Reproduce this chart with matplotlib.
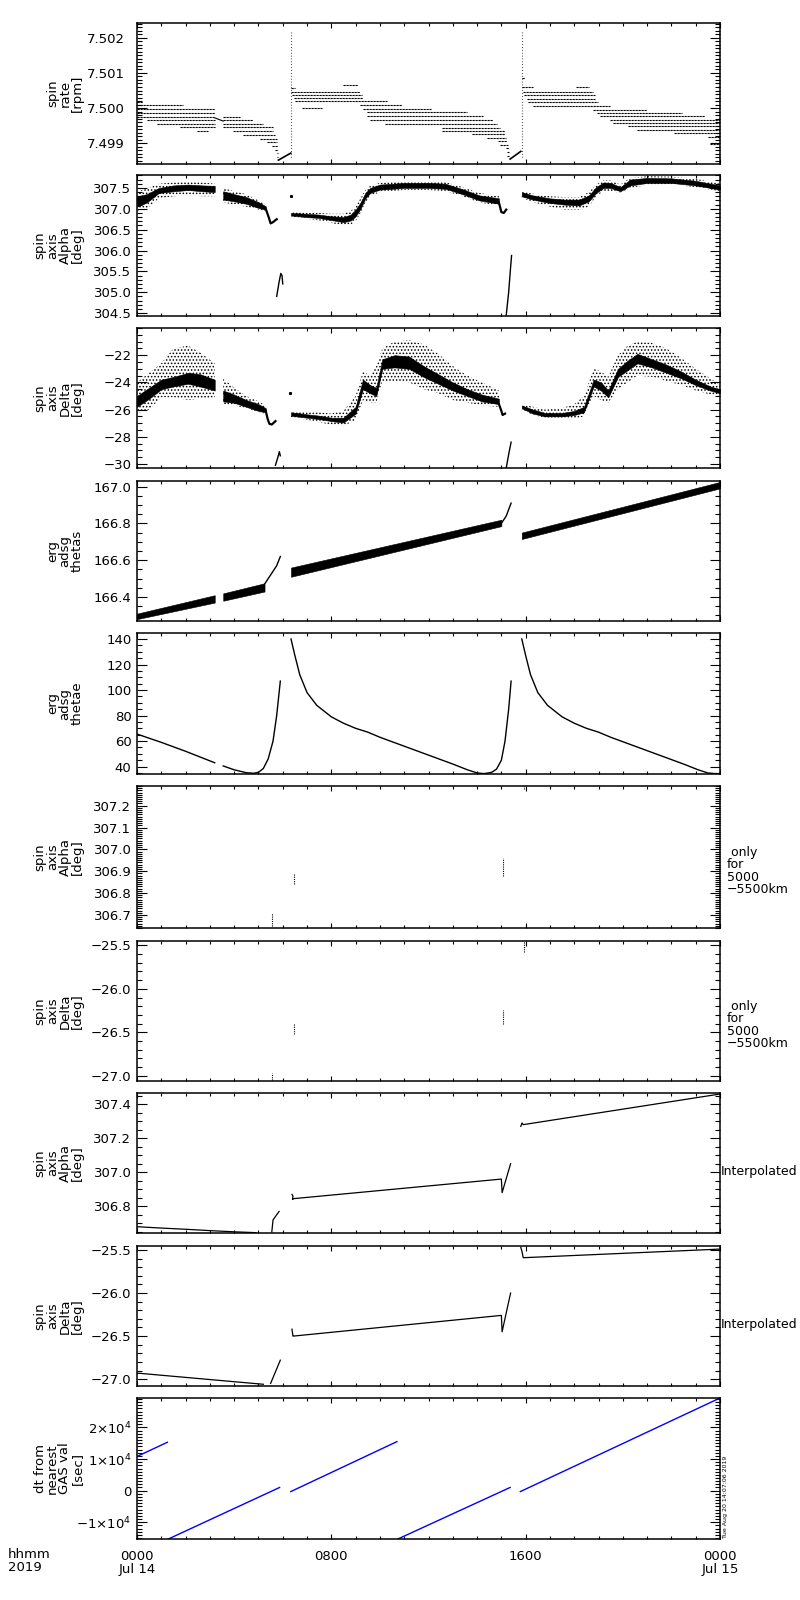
import matplotlib
matplotlib.use('Agg')
import matplotlib.pyplot as plt
import numpy as np
from matplotlib.ticker import FixedLocator, MultipleLocator

plt.rcParams['font.family'] = ['DejaVu Sans']
plt.rcParams['hatch.linewidth'] = 0.7

# time is hours since 2019-07-14 0000 UT

# ---- panel 1: spin rate rows (level, start, end) ----
p1_lev = [7.50018, 7.50008, 7.49997, 7.49987, 7.49976, 7.49966, 7.49955, 7.49945, 7.49934,
          7.49976, 7.49966, 7.49955, 7.49945, 7.49934, 7.49924, 7.49913, 7.49903, 7.49892,
          7.49882, 7.49871, 7.49861,
          7.50066, 7.50057, 7.50047, 7.50038, 7.50028, 7.50019, 7.50009, 7.50000, 7.49998,
          7.49989, 7.49978, 7.49967, 7.49956, 7.49944, 7.49935, 7.49925, 7.49915, 7.49905,
          7.49896, 7.49886, 7.49875, 7.49865,
          7.50085, 7.50059, 7.50059, 7.50046, 7.50036, 7.50027, 7.50017, 7.50007, 7.49995,
          7.49986, 7.49977, 7.49967, 7.49957, 7.49948, 7.49937, 7.49928, 7.49918, 7.49899]
p1_t0 = [0.0, 0.0, 0.0, 0.0, 0.0, 0.4, 0.81, 1.77, 2.46,
         3.55, 3.55, 3.55, 3.55, 3.97, 4.38, 5.06, 5.34, 5.54,
         5.68, 5.75, 5.75,
         8.5, 6.34, 6.34, 6.4, 6.45, 6.5, 9.2, 6.78, 9.3,
         9.45, 9.45, 9.59, 10.2, 12.54, 12.54, 13.78, 14.4, 14.87,
         14.94, 15.2, 15.22, 15.25,
         15.84, 15.84, 18.07, 15.9, 15.93, 16.04, 16.1, 16.31, 18.79,
         18.92, 19.06, 19.47, 19.6, 20.2, 20.6, 22.1, 23.5, 23.6]
p1_t1 = [0.26, 1.91, 3.21, 3.21, 3.21, 3.21, 3.21, 3.21, 2.94,
         4.24, 4.79, 5.2, 5.61, 5.61, 5.68, 5.75, 5.75, 5.82,
         5.82, 5.82, 5.82,
         9.1, 6.5, 9.18, 9.25, 9.32, 10.3, 10.9, 7.6, 12.1,
         13.57, 14.26, 14.67, 14.81, 14.94, 15.15, 15.15, 15.19, 15.25,
         15.29, 15.3, 15.3, 15.32,
         15.97, 16.31, 18.62, 18.79, 18.85, 18.85, 18.99, 19.47, 20.98,
         22.42, 23.38, 24.0, 24.0, 24.0, 24.0, 24.0, 24.0, 24.0]
p1_spike_t = [6.34, 15.84]
p1_spike_lo = [7.49860, 7.49860]
p1_spike_hi = [7.50222, 7.50218]
p1_link_t = [3.21, 3.55]
p1_link_v = [7.49972, 7.49963]
p1_diag1_t = [5.82, 6.33]
p1_diag1_v = [7.49852, 7.49872]
p1_diag2_t = [15.36, 15.80]
p1_diag2_v = [7.49855, 7.49877]

# ---- panel 2: spin axis alpha (core band + scatter envelope) ----
a2_tA = [0.0, 0.4, 0.9, 1.5, 2.1, 2.7, 3.2]
a2_cloA = [307.05, 307.15, 307.38, 307.42, 307.45, 307.42, 307.40]
a2_chiA = [307.30, 307.35, 307.50, 307.56, 307.58, 307.56, 307.55]
a2_nloA = [306.95, 307.00, 307.25, 307.30, 307.32, 307.30, 307.30]
a2_nhiA = [307.42, 307.48, 307.60, 307.63, 307.65, 307.63, 307.60]
a2_tB = [3.55, 4.0, 4.5, 5.0, 5.3]
a2_cloB = [307.22, 307.18, 307.12, 307.02, 306.98]
a2_chiB = [307.42, 307.35, 307.28, 307.16, 307.06]
a2_nloB = [307.15, 307.10, 307.05, 306.98, 306.95]
a2_nhiB = [307.50, 307.42, 307.35, 307.20, 307.10]
a2_tC = [6.34, 7.0, 7.5, 8.0, 8.5, 8.8, 9.0, 9.2, 9.4, 9.6, 10.0, 11.0, 12.0, 12.7, 13.4, 14.1, 14.9]
a2_cloC = [306.84, 306.80, 306.78, 306.73, 306.68, 306.72, 306.82, 307.00, 307.25, 307.38,
           307.46, 307.50, 307.50, 307.48, 307.35, 307.20, 307.12]
a2_chiC = [306.90, 306.88, 306.86, 306.82, 306.80, 306.86, 306.98, 307.15, 307.38, 307.50,
           307.58, 307.62, 307.62, 307.60, 307.47, 307.32, 307.25]
a2_nloC = [306.82, 306.76, 306.72, 306.66, 306.60, 306.62, 306.70, 306.90, 307.15, 307.30,
           307.40, 307.45, 307.45, 307.42, 307.30, 307.15, 307.08]
a2_nhiC = [306.92, 306.90, 306.90, 306.88, 306.88, 306.95, 307.05, 307.25, 307.45, 307.55,
           307.62, 307.66, 307.66, 307.64, 307.52, 307.38, 307.30]
a2_tD = [15.84, 16.3, 17.0, 17.6, 18.2, 18.6, 18.9, 19.2, 19.5, 19.9, 20.3, 21.0, 22.0, 23.0, 24.0]
a2_cloD = [307.30, 307.22, 307.14, 307.10, 307.08, 307.18, 307.38, 307.50, 307.50, 307.42,
           307.56, 307.62, 307.62, 307.56, 307.46]
a2_chiD = [307.40, 307.32, 307.25, 307.22, 307.22, 307.32, 307.52, 307.63, 307.62, 307.52,
           307.70, 307.74, 307.73, 307.67, 307.56]
a2_nloD = [307.26, 307.16, 307.05, 306.98, 306.98, 307.05, 307.30, 307.42, 307.42, 307.38,
           307.50, 307.57, 307.58, 307.52, 307.42]
a2_nhiD = [307.42, 307.36, 307.30, 307.28, 307.28, 307.40, 307.58, 307.68, 307.68, 307.58,
           307.74, 307.78, 307.77, 307.72, 307.60]
a2_dip1_t = [5.3, 5.42, 5.5, 5.6, 5.75]
a2_dip1_v = [307.00, 306.80, 306.65, 306.68, 306.75]
a2_dip2_t = [14.9, 15.0, 15.1, 15.2]
a2_dip2_v = [307.15, 306.92, 306.90, 306.98]
a2_thin1_t = [5.75, 5.85, 5.92, 5.97, 6.0]
a2_thin1_v = [304.90, 305.25, 305.45, 305.40, 305.20]
a2_thin2_t = [15.2, 15.3, 15.38, 15.42]
a2_thin2_v = [304.45, 305.00, 305.60, 305.88]
a2_dot_t = [6.34]
a2_dot_v = [307.30]

# ---- panel 3: spin axis delta ----
d3_tA = [0.0, 0.5, 1.0, 1.5, 2.1, 2.6, 3.2]
d3_cloA = [-25.8, -25.2, -24.5, -24.3, -24.1, -24.3, -24.6]
d3_chiA = [-25.0, -24.4, -23.8, -23.6, -23.3, -23.4, -23.8]
d3_nloA = [-26.3, -26.0, -25.1, -25.1, -25.3, -25.2, -25.1]
d3_nhiA = [-24.0, -23.3, -22.6, -21.5, -21.3, -21.8, -22.6]
d3_tB = [3.55, 4.0, 4.5, 5.0, 5.3]
d3_cloB = [-25.4, -25.5, -25.8, -26.1, -26.2]
d3_chiB = [-24.6, -24.9, -25.3, -25.6, -25.9]
d3_nloB = [-25.6, -25.7, -25.9, -26.2, -26.3]
d3_nhiB = [-23.7, -24.4, -25.0, -25.4, -25.7]
d3_tC = [6.34, 7.0, 7.5, 8.0, 8.5, 9.0, 9.3, 9.6, 9.85, 10.1, 10.6, 11.2, 11.8, 12.4, 13.0, 13.6, 14.2, 14.9]
d3_cloC = [-26.45, -26.6, -26.7, -26.85, -26.95, -26.3, -24.5, -24.8, -25.0, -23.0, -22.9, -23.0,
           -23.6, -24.1, -24.6, -25.0, -25.4, -25.6]
d3_chiC = [-26.2, -26.35, -26.45, -26.6, -26.6, -25.8, -23.8, -24.2, -24.4, -22.3, -22.0, -22.1,
           -22.8, -23.4, -24.0, -24.5, -24.9, -25.2]
d3_nloC = [-26.55, -26.75, -26.95, -27.1, -27.2, -26.8, -25.3, -25.5, -25.5, -23.9, -23.9, -24.0,
           -24.5, -24.8, -25.3, -25.5, -25.7, -25.8]
d3_nhiC = [-26.1, -26.2, -26.2, -26.3, -26.1, -25.0, -23.2, -23.5, -22.8, -21.5, -21.0, -20.9,
           -21.2, -21.9, -22.8, -23.5, -24.0, -24.6]
d3_tD = [15.84, 16.3, 16.8, 17.5, 18.0, 18.4, 18.8, 19.1, 19.4, 19.8, 20.2, 20.6, 21.2, 21.8, 22.4, 23.0, 23.6, 24.0]
d3_cloD = [-25.9, -26.3, -26.5, -26.5, -26.4, -26.2, -24.3, -24.6, -25.1, -23.6, -23.1, -22.6,
           -22.9, -23.3, -23.7, -24.2, -24.6, -24.8]
d3_chiD = [-25.7, -26.0, -26.25, -26.25, -26.1, -25.8, -23.8, -24.0, -24.6, -23.0, -22.4, -21.9,
           -22.3, -22.7, -23.2, -23.8, -24.3, -24.5]
d3_nloD = [-26.0, -26.4, -26.6, -26.7, -26.7, -26.5, -25.0, -25.3, -25.5, -24.5, -24.0, -23.5,
           -23.6, -23.9, -24.2, -24.6, -24.9, -25.0]
d3_nhiD = [-25.6, -25.8, -26.0, -25.9, -25.6, -25.0, -23.0, -23.2, -23.6, -22.0, -21.3, -21.0,
           -21.1, -21.5, -22.2, -23.0, -23.7, -24.2]
d3_dip1_t = [5.3, 5.38, 5.45, 5.55, 5.7]
d3_dip1_v = [-26.1, -26.7, -27.05, -27.1, -26.85]
d3_dip2_t = [14.9, 15.0, 15.05, 15.15]
d3_dip2_v = [-25.6, -26.1, -26.4, -26.3]
d3_thin1_t = [5.7, 5.8, 5.86, 5.9]
d3_thin1_v = [-30.1, -29.5, -29.1, -29.4]
d3_thin2_t = [15.2, 15.3, 15.4]
d3_thin2_v = [-30.3, -29.3, -28.4]
d3_dot_t = [6.3]
d3_dot_v = [-24.8]

# ---- panel 4: erg adsg thetas (band low/high) ----
s4_tA = [0.0, 3.2]
s4_loA = [166.28, 166.37]
s4_hiA = [166.31, 166.41]
s4_tB = [3.55, 5.25]
s4_loB = [166.38, 166.43]
s4_hiB = [166.42, 166.475]
s4_tC = [6.34, 15.0]
s4_loC = [166.51, 166.785]
s4_hiC = [166.56, 166.82]
s4_tD = [15.84, 24.0]
s4_loD = [166.715, 166.99]
s4_hiD = [166.75, 167.025]
s4_ramp1_t = [5.25, 5.5, 5.75, 5.9]
s4_ramp1_v = [166.47, 166.52, 166.57, 166.62]
s4_ramp2_t = [15.0, 15.2, 15.4]
s4_ramp2_v = [166.80, 166.84, 166.91]

# ---- panel 5: erg adsg thetae ----
e5_tA = [0.0, 1.0, 2.0, 3.2]
e5_vA = [65.5, 59.0, 52.0, 43.0]
e5_tB = [3.55, 4.0, 4.5, 4.8, 5.0, 5.2, 5.4, 5.6, 5.75, 5.9]
e5_vB = [40.5, 37.5, 35.2, 34.8, 35.5, 38.5, 46.0, 60.0, 80.0, 107.0]
e5_tC = [6.34, 6.5, 6.7, 7.0, 7.4, 8.0, 8.5, 9.0, 9.5, 10.0, 11.0, 12.0, 13.0, 13.6,
         14.0, 14.3, 14.6, 14.8, 15.0, 15.15, 15.3, 15.4]
e5_vC = [140.0, 127.0, 112.0, 98.0, 88.0, 79.0, 74.0, 70.0, 67.0, 63.0, 56.0, 49.0, 42.0, 37.5,
         35.0, 34.5, 35.5, 38.0, 45.0, 60.0, 85.0, 107.0]
e5_tD = [15.84, 16.0, 16.2, 16.5, 16.9, 17.5, 18.0, 18.5, 19.0, 19.5, 20.5, 21.5, 22.5, 23.1,
         23.5, 23.8, 24.0]
e5_vD = [140.0, 127.0, 112.0, 98.0, 88.0, 79.0, 74.0, 70.0, 67.0, 63.0, 56.0, 49.0, 42.0, 37.5,
         35.0, 34.5, 34.5]

# ---- panels 6/7: values only for 5000-5500 km ----
a6_t = [5.57, 6.45, 15.05, 15.93]
a6_lo = [306.65, 306.84, 306.88, 307.275]
a6_hi = [306.71, 306.89, 306.96, 307.29]
d7_t = [5.57, 6.45, 15.05, 15.93]
d7_lo = [-27.05, -26.52, -26.41, -25.58]
d7_hi = [-26.97, -26.40, -26.24, -25.46]

# ---- panel 8: interpolated alpha ----
a8_t1 = [0.0, 1.0, 2.0, 3.0, 4.0, 4.9]
a8_v1 = [306.68, 306.672, 306.665, 306.657, 306.65, 306.645]
a8_t2 = [5.55, 5.6, 5.7, 5.85]
a8_v2 = [306.65, 306.72, 306.74, 306.77]
a8_t3 = [6.38, 6.42, 6.40, 6.45, 15.0, 15.03, 15.38]
a8_v3 = [306.87, 306.86, 306.84, 306.845, 306.96, 306.88, 307.05]
a8_t4 = [15.8, 15.85, 15.9, 24.0]
a8_v4 = [307.27, 307.29, 307.28, 307.46]

# ---- panel 9: interpolated delta ----
d9_t1 = [0.0, 5.2]
d9_v1 = [-26.93, -27.06]
d9_t2 = [5.5, 5.9]
d9_v2 = [-27.05, -26.78]
d9_t3 = [6.38, 6.42, 6.45, 15.0, 15.03, 15.38]
d9_v3 = [-26.42, -26.50, -26.50, -26.26, -26.45, -26.00]
d9_t4 = [15.8, 15.85, 15.9, 24.0]
d9_v4 = [-25.47, -25.52, -25.59, -25.49]

# ---- panel 10: dt from nearest GAS value ----
dt_t0 = [0.0, 1.29, 6.33, 10.74, 15.78]
dt_t1 = [1.25, 5.87, 10.70, 15.36, 24.0]
dt_v0 = [1.08e4, -1.53e4, -0.03e4, -1.53e4, -0.03e4]
dt_v1 = [1.53e4, 0.10e4, 1.55e4, 0.10e4, 2.93e4]

labels = ['spin\nrate\n[rpm]', 'spin\naxis\nAlpha\n[deg]', 'spin\naxis\nDelta\n[deg]',
          'erg\nadsg\nthetas', 'erg\nadsg\nthetae', 'spin\naxis\nAlpha\n[deg]',
          'spin\naxis\nDelta\n[deg]', 'spin\naxis\nAlpha\n[deg]', 'spin\naxis\nDelta\n[deg]',
          'dt from\nnearest\nGAS val\n[sec]']
xtick_labels = ['0000\nJul 14', '0800', '1600', '0000\nJul 15']

W, H = 800, 1600
fig = plt.figure(figsize=(8, 16), dpi=100)
rows_px = [(23, 164), (175, 316), (328, 468), (481, 621), (633, 774),
           (786, 928), (941, 1081), (1093, 1233), (1246, 1386), (1398, 1539)]
axes = []
for i, (t, b) in enumerate(rows_px):
    ax = fig.add_axes([137 / W, 1 - b / H, 583 / W, (b - t) / H])
    axes.append(ax)
    fig.text(84 / W, 1 - (t + b) / 2 / H, labels[i], rotation=90, ha='right', va='center',
             multialignment='center', fontsize=9.5, linespacing=0.95)


def style(ax, ylim, major, minor, fmt, pad=4):
    ax.set_xlim(0, 24)
    ax.set_ylim(*ylim)
    ax.xaxis.set_major_locator(FixedLocator([0, 8, 16, 24]))
    ax.xaxis.set_minor_locator(MultipleLocator(1))
    ax.yaxis.set_major_locator(FixedLocator(major))
    ax.yaxis.set_minor_locator(MultipleLocator(minor))
    if fmt is not None:
        ax.set_yticklabels([fmt % v for v in major])
    ax.tick_params(which='both', direction='in', top=True, right=True, width=0.8)
    ax.tick_params(axis='y', which='major', length=7, pad=pad, labelsize=9.5)
    ax.tick_params(axis='y', which='minor', length=3.5)
    ax.tick_params(axis='x', which='major', length=3.5)
    ax.tick_params(axis='x', which='minor', length=2)
    ax.set_xticklabels([])
    for s in ax.spines.values():
        s.set_linewidth(1.1)


def cloud(ax, t, nlo, nhi, clo, chi):
    ax.fill_between(t, nlo, nhi, facecolor='none', edgecolor='k', hatch='.....', linewidth=0)
    ax.fill_between(t, clo, chi, color='k', linewidth=0.4)


# panel 1
ax = axes[0]
ax.hlines(p1_lev, p1_t0, p1_t1, color='k', linewidth=0.8, linestyles=(0, (2.0, 0.7)))
ax.vlines(p1_spike_t, p1_spike_lo, p1_spike_hi, color='k', linewidth=0.8, linestyles=(0, (0.6, 2.0)))
ax.plot(p1_link_t, p1_link_v, color='k', lw=0.8)
ax.plot(p1_diag1_t, p1_diag1_v, color='k', lw=1.2)
ax.plot(p1_diag2_t, p1_diag2_v, color='k', lw=1.2)
style(ax, (7.49841, 7.50242), [7.499, 7.500, 7.501, 7.502], 0.0001, '%.3f', pad=9)

# panel 2
ax = axes[1]
cloud(ax, a2_tA, a2_nloA, a2_nhiA, a2_cloA, a2_chiA)
cloud(ax, a2_tB, a2_nloB, a2_nhiB, a2_cloB, a2_chiB)
cloud(ax, a2_tC, a2_nloC, a2_nhiC, a2_cloC, a2_chiC)
cloud(ax, a2_tD, a2_nloD, a2_nhiD, a2_cloD, a2_chiD)
ax.plot(a2_dip1_t, a2_dip1_v, color='k', lw=1.6)
ax.plot(a2_dip2_t, a2_dip2_v, color='k', lw=1.6)
ax.plot(a2_thin1_t, a2_thin1_v, color='k', lw=1.0)
ax.plot(a2_thin2_t, a2_thin2_v, color='k', lw=1.0)
ax.plot(a2_dot_t, a2_dot_v, 'ks', ms=1.2)
style(ax, (304.43, 307.81), [304.5, 305.0, 305.5, 306.0, 306.5, 307.0, 307.5], 0.1, '%.1f')

# panel 3
ax = axes[2]
cloud(ax, d3_tA, d3_nloA, d3_nhiA, d3_cloA, d3_chiA)
cloud(ax, d3_tB, d3_nloB, d3_nhiB, d3_cloB, d3_chiB)
cloud(ax, d3_tC, d3_nloC, d3_nhiC, d3_cloC, d3_chiC)
cloud(ax, d3_tD, d3_nloD, d3_nhiD, d3_cloD, d3_chiD)
ax.plot(d3_dip1_t, d3_dip1_v, color='k', lw=1.6)
ax.plot(d3_dip2_t, d3_dip2_v, color='k', lw=1.6)
ax.plot(d3_thin1_t, d3_thin1_v, color='k', lw=1.0)
ax.plot(d3_thin2_t, d3_thin2_v, color='k', lw=1.0)
ax.plot(d3_dot_t, d3_dot_v, 'ks', ms=1.2)
style(ax, (-30.3, -20.0), [-30, -28, -26, -24, -22], 0.5, None)
ax.set_yticklabels(['\u221230', '\u221228', '\u221226', '\u221224', '\u221222'])

# panel 4
ax = axes[3]
for t, lo, hi in [(s4_tA, s4_loA, s4_hiA), (s4_tB, s4_loB, s4_hiB),
                  (s4_tC, s4_loC, s4_hiC), (s4_tD, s4_loD, s4_hiD)]:
    ax.fill_between(t, lo, hi, color='k', linewidth=0.4)
ax.plot(s4_ramp1_t, s4_ramp1_v, color='k', lw=1.0)
ax.plot(s4_ramp2_t, s4_ramp2_v, color='k', lw=1.0)
style(ax, (166.27, 167.03), [166.4, 166.6, 166.8, 167.0], 0.05, '%.1f')

# panel 5
ax = axes[4]
for t, v in [(e5_tA, e5_vA), (e5_tB, e5_vB), (e5_tC, e5_vC), (e5_tD, e5_vD)]:
    ax.plot(t, v, color='k', lw=1.0)
style(ax, (34.2, 144.7), [40, 60, 80, 100, 120, 140], 5, '%d')

# panel 6
ax = axes[5]
ax.vlines(a6_t, a6_lo, a6_hi, color='k', linewidth=0.8, linestyles=(0, (1, 1)))
style(ax, (306.64, 307.29), [306.7, 306.8, 306.9, 307.0, 307.1, 307.2], 0.01, '%.1f')
ax.text(1.012, 0.40, ' only\nfor\n5000\n\u22125500km', transform=ax.transAxes,
        ha='left', va='center', fontsize=9, linespacing=0.95)

# panel 7
ax = axes[6]
ax.vlines(d7_t, d7_lo, d7_hi, color='k', linewidth=0.8, linestyles=(0, (1, 1)))
style(ax, (-27.06, -25.45), [-27.0, -26.5, -26.0, -25.5], 0.1, None)
ax.set_yticklabels(['\u221227.0', '\u221226.5', '\u221226.0', '\u221225.5'])
ax.text(1.012, 0.40, ' only\nfor\n5000\n\u22125500km', transform=ax.transAxes,
        ha='left', va='center', fontsize=9, linespacing=0.95)

# panel 8
ax = axes[7]
for t, v in [(a8_t1, a8_v1), (a8_t2, a8_v2), (a8_t3, a8_v3), (a8_t4, a8_v4)]:
    ax.plot(t, v, color='k', lw=0.9)
style(ax, (306.643, 307.466), [306.8, 307.0, 307.2, 307.4], 0.05, '%.1f')
ax.text(1.001, 0.436, 'Interpolated', transform=ax.transAxes, ha='left', va='center', fontsize=9)

# panel 9
ax = axes[8]
for t, v in [(d9_t1, d9_v1), (d9_t2, d9_v2), (d9_t3, d9_v3), (d9_t4, d9_v4)]:
    ax.plot(t, v, color='k', lw=0.9)
style(ax, (-27.08, -25.454), [-27.0, -26.5, -26.0, -25.5], 0.1, None)
ax.set_yticklabels(['\u221227.0', '\u221226.5', '\u221226.0', '\u221225.5'])
ax.text(1.001, 0.436, 'Interpolated', transform=ax.transAxes, ha='left', va='center', fontsize=9)

# panel 10
ax = axes[9]
for t0, t1, v0, v1 in zip(dt_t0, dt_t1, dt_v0, dt_v1):
    ax.plot([t0, t1], [v0, v1], color='#0000ff', lw=1.0)
style(ax, (-1.53e4, 2.93e4), [-1e4, 0, 1e4, 2e4], 1000, None)
ax.set_yticklabels(['\u22121$\\times$10$^4$', '0', '1$\\times$10$^4$', '2$\\times$10$^4$'])
ax.set_xticklabels(xtick_labels)
ax.tick_params(axis='x', which='major', pad=8, labelsize=9.5)
for lab in ax.get_xticklabels():
    lab.set_linespacing(1.0)

fig.text(8 / W, 1 - 1548 / H, 'hhmm\n2019', ha='left', va='top', fontsize=9.5, linespacing=1.0)
fig.text(723 / W, 1 - 1538 / H, 'Tue Aug 20 14:07:06 2019', rotation=90, ha='left', va='bottom',
         fontsize=4.5)

fig.savefig('out.png', dpi=100)
